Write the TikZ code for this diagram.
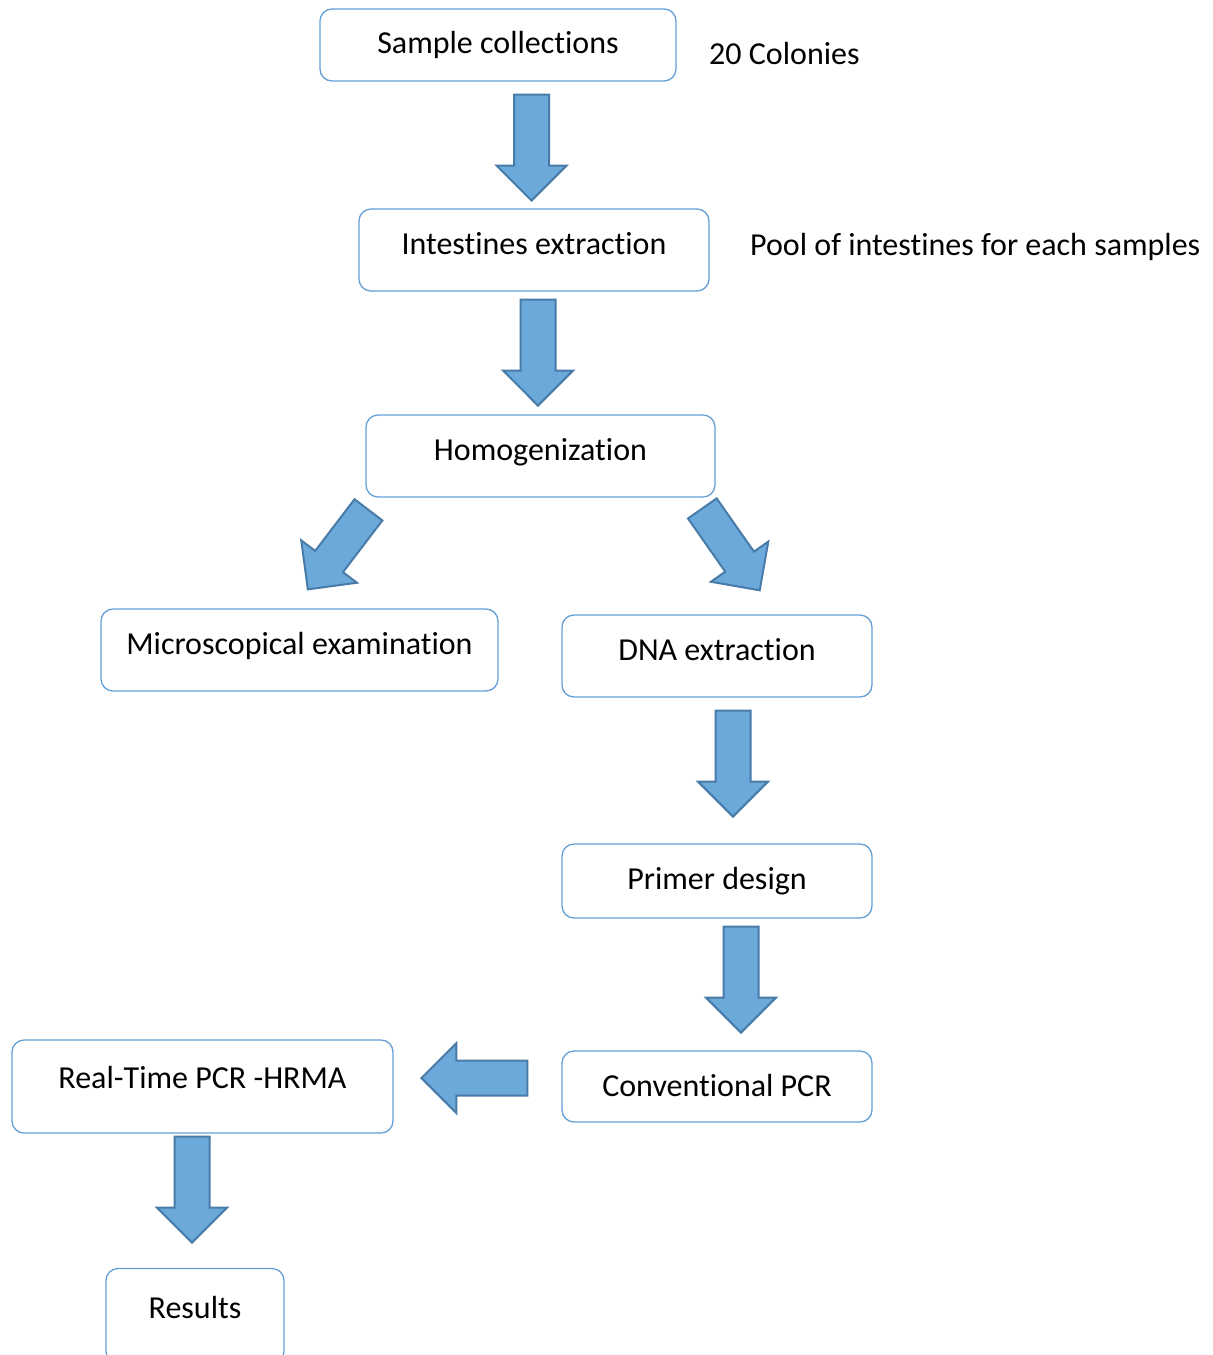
\documentclass[tikz,border=0pt]{standalone}
\usepackage{fontspec}
\setmainfont{Carlito}[Ligatures=NoCommon]
\usetikzlibrary{shapes.arrows}
\definecolor{boxline}{RGB}{100,160,215}
\definecolor{arrowfill}{RGB}{107,169,219}
\definecolor{arrowline}{RGB}{72,123,168}
\tikzset{
  box/.style={draw=boxline, line width=1.3pt, rounded corners=12pt, fill=white,
    font=\fontsize{32}{38}\selectfont, inner sep=0pt, text height=24pt, text depth=#1},
  box/.default=16pt,
  sidetext/.style={anchor=west, font=\fontsize{32}{38}\selectfont, inner sep=0pt},
  bigarrow/.style={single arrow, draw=arrowline, line width=2pt, fill=arrowfill,
    single arrow head extend=17.5pt, single arrow head indent=0pt, anchor=tip,
    minimum height=106pt, inner xsep=0pt, inner ysep=16.5pt}
}

\begin{document}
\begin{tikzpicture}[x=1pt,y=-1pt]
\useasboundingbox (0,0) rectangle (1213,1355);

\node[box=8pt, minimum width=356pt, minimum height=72pt] (sample) at (498,45) {Sample collections};
\node[box=16pt, minimum width=350pt, minimum height=82pt] (intestine) at (534,250) {Intestines extraction};
\node[box=16pt, minimum width=349pt, minimum height=82pt] (homog) at (540.5,456) {Homogenization};
\node[box=16pt, minimum width=397pt, minimum height=82pt] (micro) at (299.5,650) {Microscopical examination};
\node[box=16pt, minimum width=310pt, minimum height=82pt] (dna) at (717,656) {DNA extraction};
\node[box=8pt, minimum width=310pt, minimum height=74pt] (primer) at (717,881) {Primer design};
\node[box=5pt, minimum width=310pt, minimum height=71pt] (conv) at (717,1086.5) {Conventional PCR};
\node[box=21pt, minimum width=381pt, minimum height=93pt] (realtime) at (202.5,1086.5) {Real-Time PCR -HRMA};
\node[box=20pt, minimum width=178pt, minimum height=95pt] (results) at (195,1316) {Results};

\node[sidetext] (colonies) at (709,54) {20 Colonies};
\node[sidetext] (pool) at (750,247) {Pool of intestines for each samples};

\node[bigarrow, rotate=-90] (a1) at (531.5,202) {};
\node[bigarrow, rotate=-90] (a2) at (538,407) {};
\node[bigarrow, rotate=-127.3, minimum height=100pt] (a3) at (307,590.5) {};
\node[bigarrow, rotate=-55, minimum height=100pt] (a4) at (760.5,591.5) {};
\node[bigarrow, rotate=-90] (a5) at (733,818) {};
\node[bigarrow, rotate=-90] (a6) at (741,1034) {};
\node[bigarrow, rotate=180, minimum height=106pt] (a7) at (420,1078) {};
\node[bigarrow, rotate=-90] (a8) at (192,1244) {};

\end{tikzpicture}
\end{document}
